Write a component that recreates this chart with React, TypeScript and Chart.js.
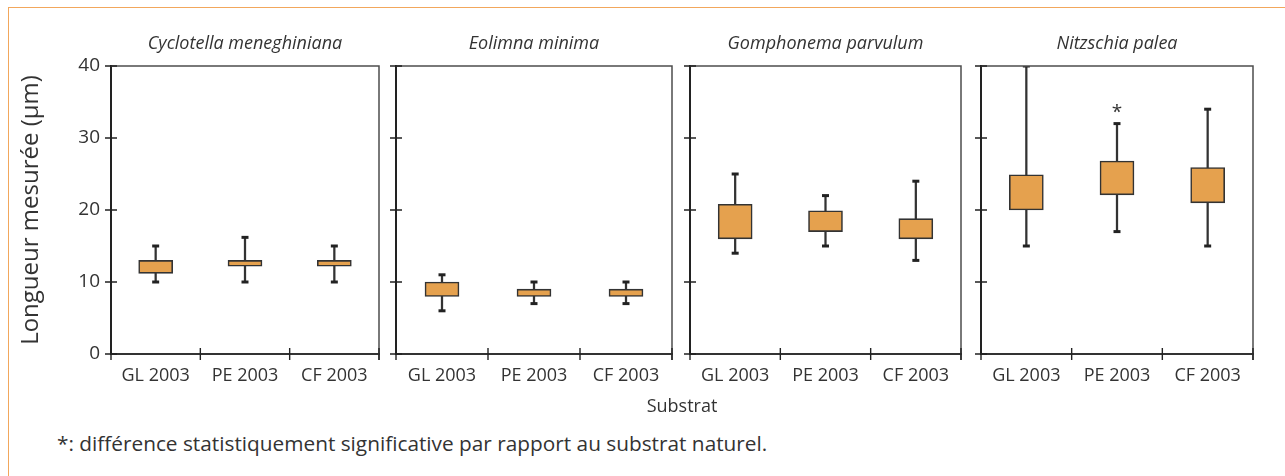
import React, { useEffect, useRef } from 'react';
import { Chart, registerables } from 'chart.js';

Chart.register(...registerables);

// ---------- data ----------
const categories = ['GL 2003', 'PE 2003', 'CF 2003'];
const yTickValues = [0, 10, 20, 30, 40];

const cycloMin = [10, 10, 10];
const cycloQ1 = [11.2, 12.2, 12.2];
const cycloQ3 = [13, 13, 13];
const cycloMax = [15, 16.2, 15];
const cycloSignif: (number | null)[] = [null, null, null];

const eoliMin = [6, 7, 7];
const eoliQ1 = [8, 8, 8];
const eoliQ3 = [10, 9, 9];
const eoliMax = [11, 10, 10];
const eoliSignif: (number | null)[] = [null, null, null];

const gompMin = [14, 15, 13];
const gompQ1 = [16, 17, 16];
const gompQ3 = [20.8, 19.9, 18.8];
const gompMax = [25, 22, 24];
const gompSignif: (number | null)[] = [null, null, null];

const nitzMin = [15, 17, 15];
const nitzQ1 = [20, 22.1, 21];
const nitzQ3 = [24.9, 26.8, 25.9];
const nitzMax = [40, 32, 34];
const nitzSignif: (number | null)[] = [null, 34.1, null];

const panelTitles = ['Cyclotella meneghiniana', 'Eolimna minima', 'Gomphonema parvulum', 'Nitzschia palea'];
const yAxisTitle = 'Longueur mesurée (µm)';
const xAxisTitle = 'Substrat';
const footnote = '*: différence statistiquement significative par rapport au substrat naturel.';

// ---------- styles / layout ----------
const FONT = "'Open Sans', 'DejaVu Sans', sans-serif";
const TICK_FONT = "'Open Sans', sans-serif";
const TEXT = '#333333';
const BOX_FILL = '#E5A14E';
const ORANGE_FRAME = '#F2A75C';

const CANVAS_TOP = 20;
const CANVAS_H = 380;
const AREA_TOP = 66;
const AREA_BOTTOM = 354;
const TITLE_SIZE = 18;

const panelGeom = [
  { left: 111, right: 381 },
  { left: 396, right: 674 },
  { left: 690, right: 963 },
  { left: 981, right: 1255 },
];

const frameAndTicks = {
  id: 'frameAndTicks',
  afterDraw(chart: any) {
    const { ctx, chartArea: a, scales } = chart;
    ctx.save();
    ctx.strokeStyle = '#4d4d4d';
    ctx.lineWidth = 1.5;
    ctx.beginPath();
    ctx.moveTo(a.left, a.top);
    ctx.lineTo(a.right, a.top);
    ctx.lineTo(a.right, a.bottom + 6);
    ctx.stroke();

    ctx.strokeStyle = '#222';
    ctx.lineWidth = 1.4;
    ctx.beginPath();
    scales.y.ticks.forEach((t: any) => {
      const y = scales.y.getPixelForValue(t.value);
      ctx.moveTo(a.left - 6, y);
      ctx.lineTo(a.left + 6, y);
    });
    const n = scales.x.getLabels().length;
    for (let i = 0; i <= n; i++) {
      const x = scales.x.getPixelForValue(i - 0.5);
      ctx.moveTo(x, a.bottom - 6);
      ctx.lineTo(x, a.bottom + 6);
    }
    ctx.stroke();

    // significance asterisks
    chart.data.datasets.forEach((ds: any, di: number) => {
      if (ds.label !== 'signif') return;
      const meta = chart.getDatasetMeta(di);
      meta.data.forEach((pt: any, i: number) => {
        if (ds.data[i] == null) return;
        ctx.fillStyle = TEXT;
        ctx.font = `19px ${FONT}`;
        ctx.textAlign = 'center';
        ctx.textBaseline = 'alphabetic';
        ctx.fillText('*', pt.x, pt.y + 10);
      });
    });
    ctx.restore();
  },
};

type PanelProps = {
  idx: number;
  mins: number[];
  q1s: number[];
  q3s: number[];
  maxs: number[];
  signif: (number | null)[];
};

function Panel({ idx, mins, q1s, q3s, maxs, signif }: PanelProps) {
  const ref = useRef<HTMLCanvasElement>(null);
  const g = panelGeom[idx];
  const first = idx === 0;
  const yW = first ? g.left : 10;
  const canvasLeft = g.left - yW;
  const padRight = 5;
  const width = g.right - canvasLeft + padRight;

  useEffect(() => {
    if (!ref.current) return;
    const chart = new Chart(ref.current, {
      type: 'bar',
      data: {
        labels: categories,
        datasets: [
          {
            label: 'box',
            data: q1s.map((q, i) => [q, q3s[i]]),
            backgroundColor: BOX_FILL,
            borderColor: '#333',
            borderWidth: 1.6,
            borderSkipped: false,
            barThickness: 34,
            grouped: false,
            order: 1,
          } as any,
          {
            label: 'whisker',
            data: mins.map((m, i) => [m, maxs[i]]),
            backgroundColor: '#333',
            borderWidth: 0,
            barThickness: 1.6,
            grouped: false,
            order: 2,
          } as any,
          {
            type: 'line',
            label: 'capMax',
            data: maxs,
            showLine: false,
            pointStyle: 'line',
            pointRadius: 3.5,
            pointBorderWidth: 3,
            pointBorderColor: '#222',
            order: 0,
          } as any,
          {
            type: 'line',
            label: 'capMin',
            data: mins,
            showLine: false,
            pointStyle: 'line',
            pointRadius: 3.5,
            pointBorderWidth: 3,
            pointBorderColor: '#222',
            order: 0,
          } as any,
          {
            type: 'line',
            label: 'signif',
            data: signif,
            showLine: false,
            pointRadius: 0,
            order: 0,
          } as any,
        ],
      },
      options: {
        animation: false,
        responsive: false,
        events: [],
        layout: { padding: { top: 0, right: padRight, bottom: 0, left: 0 } },
        plugins: {
          legend: { display: false },
          tooltip: { enabled: false },
          title: {
            display: true,
            text: panelTitles[idx],
            fullSize: false,
            color: TEXT,
            font: { family: FONT, size: TITLE_SIZE, style: 'italic', weight: 'normal', lineHeight: 1.2 },
            padding: { top: 13, bottom: AREA_TOP - CANVAS_TOP - 13 - TITLE_SIZE * 1.2 },
          },
        },
        scales: {
          x: {
            type: 'category',
            offset: true,
            grid: { display: true, drawOnChartArea: false, drawTicks: false, color: 'rgba(0,0,0,0)' },
            border: { display: true, color: '#333', width: 2 },
            ticks: {
              color: TEXT,
              font: { family: TICK_FONT, size: 18, lineHeight: 1.2 },
              padding: 11,
              maxRotation: 0,
              autoSkip: false,
            },
            afterFit: (s: any) => {
              s.height = CANVAS_TOP + CANVAS_H - AREA_BOTTOM;
            },
          },
          y: {
            type: 'linear',
            min: 0,
            max: 40,
            afterBuildTicks: (s: any) => {
              s.ticks = yTickValues.map((v) => ({ value: v }));
            },
            grid: { display: true, drawOnChartArea: false, drawTicks: false, color: 'rgba(0,0,0,0)' },
            border: { display: true, color: '#222', width: 2 },
            ticks: {
              display: first,
              color: TEXT,
              font: { family: TICK_FONT, size: 19 },
              padding: 11,
            },
            title: {
              display: first,
              text: yAxisTitle,
              color: TEXT,
              font: { family: FONT, size: 24, lineHeight: 1.2 },
              padding: { top: 17, bottom: 0 },
            },
            afterFit: (s: any) => {
              s.width = yW;
            },
          },
        },
      },
      plugins: [frameAndTicks],
    } as any);
    return () => chart.destroy();
  }, []);

  return (
    <canvas
      ref={ref}
      width={width}
      height={CANVAS_H}
      style={{ position: 'absolute', left: canvasLeft, top: CANVAS_TOP, width, height: CANVAS_H }}
    />
  );
}

export default function App() {
  return (
    <div style={{ position: 'absolute', left: 0, top: 0, width: 1285, height: 476, overflow: 'hidden', background: '#fff' }}>
      <div
        style={{
          position: 'absolute',
          left: 8,
          top: 7,
          width: 1300,
          height: 500,
          borderTop: `1.5px solid ${ORANGE_FRAME}`,
          borderLeft: `1.5px solid ${ORANGE_FRAME}`,
        }}
      />
      <Panel idx={0} mins={cycloMin} q1s={cycloQ1} q3s={cycloQ3} maxs={cycloMax} signif={cycloSignif} />
      <Panel idx={1} mins={eoliMin} q1s={eoliQ1} q3s={eoliQ3} maxs={eoliMax} signif={eoliSignif} />
      <Panel idx={2} mins={gompMin} q1s={gompQ1} q3s={gompQ3} maxs={gompMax} signif={gompSignif} />
      <Panel idx={3} mins={nitzMin} q1s={nitzQ1} q3s={nitzQ3} maxs={nitzMax} signif={nitzSignif} />
      <div
        style={{
          position: 'absolute',
          left: 582,
          width: 200,
          top: 393,
          lineHeight: '26px',
          textAlign: 'center',
          font: `18px ${FONT}`,
          color: TEXT,
        }}
      >
        {xAxisTitle}
      </div>
      <div
        style={{
          position: 'absolute',
          left: 57,
          top: 429,
          lineHeight: '28px',
          font: `20.8px ${FONT}`,
          color: TEXT,
          whiteSpace: 'nowrap',
        }}
      >
        {footnote}
      </div>
    </div>
  );
}
